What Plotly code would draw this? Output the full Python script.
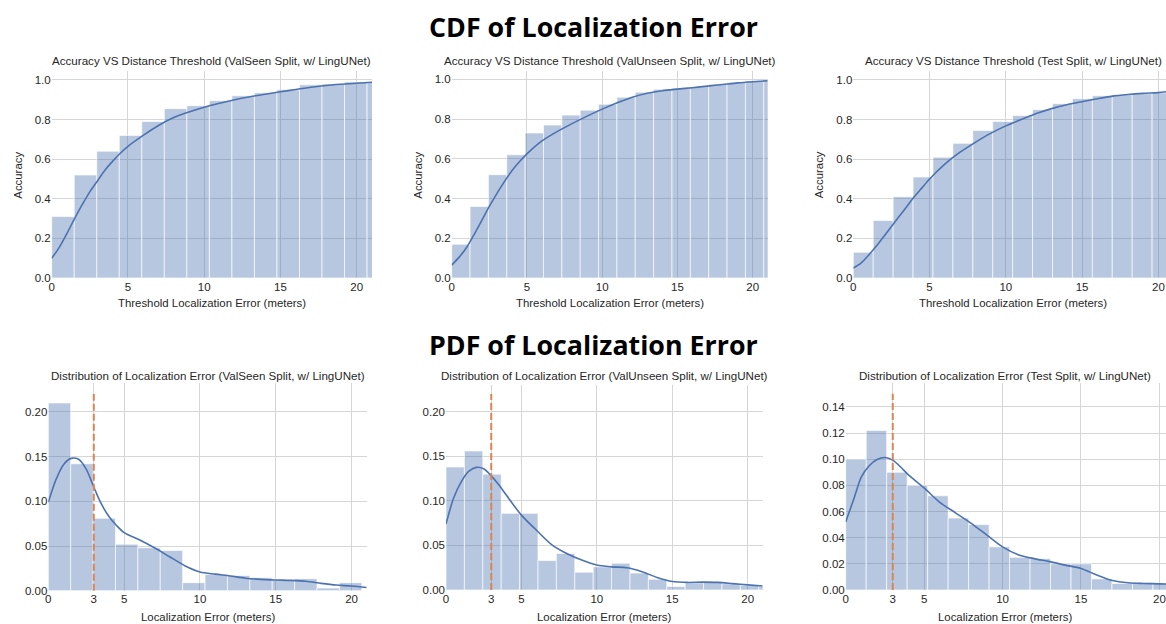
import plotly.graph_objects as go

# ---------------- data ----------------
splits = ["ValSeen", "ValUnseen", "Test"]

# histogram bin widths (meters)
bin_width_valseen = 1.477
bin_width_valunseen = 1.22
bin_width_test = 1.306

# CDF (cumulative) bar heights
cdf_bars_valseen = [0.31, 0.52, 0.64, 0.72, 0.79, 0.855, 0.87, 0.895, 0.92, 0.935,
                    0.95, 0.975, 0.98, 0.99, 0.99]
cdf_bars_valunseen = [0.17, 0.36, 0.52, 0.62, 0.73, 0.77, 0.82, 0.845, 0.875, 0.91,
                      0.935, 0.95, 0.955, 0.963, 0.975, 0.983, 0.99, 0.995]
cdf_bars_test = [0.13, 0.29, 0.41, 0.51, 0.61, 0.68, 0.745, 0.79, 0.82, 0.85,
                 0.88, 0.905, 0.92, 0.925, 0.93, 0.935]

# CDF smooth curves
cdf_curve_x_valseen = [0, 0.5, 1, 1.5, 2, 2.5, 3, 3.5, 4, 4.5, 5, 6, 7, 8, 9, 10, 11, 12,
                       13, 14, 15, 16, 17, 18, 19, 20, 21]
cdf_curve_y_valseen = [0.10, 0.155, 0.225, 0.30, 0.37, 0.435, 0.49, 0.545, 0.59, 0.63,
                       0.665, 0.72, 0.77, 0.81, 0.838, 0.862, 0.882, 0.90, 0.915, 0.928,
                       0.94, 0.952, 0.963, 0.972, 0.978, 0.983, 0.988]
cdf_curve_x_valunseen = [0, 0.5, 1, 1.5, 2, 2.5, 3, 3.5, 4, 4.5, 5, 6, 7, 8, 9, 10, 11, 12,
                         13, 14, 15, 16, 17, 18, 19, 20, 21]
cdf_curve_y_valunseen = [0.065, 0.105, 0.155, 0.22, 0.29, 0.36, 0.425, 0.485, 0.54, 0.585,
                         0.625, 0.69, 0.737, 0.777, 0.815, 0.85, 0.882, 0.91, 0.93, 0.943,
                         0.951, 0.958, 0.966, 0.974, 0.982, 0.988, 0.993]
cdf_curve_x_test = [0, 0.5, 1, 1.5, 2, 2.5, 3, 3.5, 4, 4.5, 5, 6, 7, 8, 9, 10, 11, 12, 13,
                    14, 15, 16, 17, 18, 19, 20, 20.5]
cdf_curve_y_test = [0.05, 0.075, 0.115, 0.16, 0.21, 0.26, 0.31, 0.36, 0.41, 0.455, 0.50,
                    0.575, 0.635, 0.685, 0.73, 0.768, 0.80, 0.83, 0.855, 0.875, 0.89,
                    0.905, 0.918, 0.926, 0.932, 0.936, 0.94]

# PDF (density) bar heights
pdf_bars_valseen = [0.21, 0.142, 0.081, 0.052, 0.048, 0.045, 0.009, 0.018, 0.017, 0.0145,
                    0.012, 0.0135, 0.003, 0.009]
pdf_bars_valunseen = [0.138, 0.156, 0.13, 0.086, 0.086, 0.033, 0.041, 0.020, 0.026, 0.030,
                      0.019, 0.012, 0.004, 0.008, 0.0095, 0.007, 0.005, 0.004]
pdf_bars_test = [0.10, 0.122, 0.09, 0.08, 0.072, 0.055, 0.05, 0.033, 0.025, 0.024,
                 0.02, 0.02, 0.0085, 0.005, 0.0055, 0.005]

# PDF KDE curves
kde_x_valseen = [0, 0.5, 1, 1.5, 2, 2.5, 3, 3.5, 4, 4.5, 5, 6, 7, 8, 9, 10, 11, 12, 13,
                 14, 15, 16, 17, 18, 19, 20, 21]
kde_y_valseen = [0.099, 0.124, 0.141, 0.148, 0.147, 0.136, 0.116, 0.097, 0.083, 0.073,
                 0.065, 0.057, 0.048, 0.038, 0.028, 0.021, 0.0185, 0.0165, 0.014, 0.0127,
                 0.012, 0.0115, 0.0105, 0.0082, 0.0063, 0.0052, 0.0035]
kde_x_valunseen = [0, 0.5, 1, 1.5, 2, 2.5, 3, 3.5, 4, 5, 6, 7, 8, 9, 10, 11, 12, 13, 14,
                   15, 16, 17, 18, 19, 20, 21]
kde_y_valunseen = [0.074, 0.103, 0.121, 0.133, 0.1376, 0.136, 0.128, 0.118, 0.1065, 0.084,
                   0.067, 0.051, 0.041, 0.0336, 0.028, 0.026, 0.025, 0.0206, 0.014, 0.0095,
                   0.0085, 0.0088, 0.0085, 0.0072, 0.0058, 0.0045]
kde_x_test = [0, 0.5, 1, 1.5, 2, 2.5, 3, 3.5, 4, 5, 6, 7, 8, 9, 10, 11, 12, 13, 14, 15,
              16, 17, 18, 19, 20, 20.5]
kde_y_test = [0.052, 0.069, 0.0865, 0.095, 0.0998, 0.1013, 0.0993, 0.094, 0.088, 0.078,
              0.067, 0.059, 0.051, 0.042, 0.033, 0.027, 0.024, 0.0217, 0.019, 0.0165,
              0.0115, 0.0072, 0.0055, 0.005, 0.0047, 0.0046]

threshold_m = 3
threshold_line_top = [0.22, 0.22, 0.15]

cdf_x_range_max = [21, 21, 20.5]
cdf_y_range_max = [1.045, 1.042, 1.045]
pdf_x_range_max = [21, 21, 20.42]
pdf_y_range_max = [0.232, 0.23, 0.158]
pdf_y_ticks = [[0, 0.05, 0.10, 0.15, 0.20], [0, 0.05, 0.10, 0.15, 0.20],
               [0, 0.02, 0.04, 0.06, 0.08, 0.10, 0.12, 0.14]]

cdf_tick_vals = [0, 5, 10, 15, 20]
pdf_tick_vals = [0, 3, 5, 10, 15, 20]

# ---------------- styling ----------------
BAR = "rgba(76,114,176,0.4)"
EDGE = "rgba(255,255,255,0.65)"
LINE = "#4c72b0"
ORANGE = "#dd8452"
GRID = "#d6d6d6"
TXT = "#262626"
FONT = "Liberation Sans, Arial, sans-serif"

W, H = 1166, 624
cdf_x_dom = [(51.7, 372.0), (451.7, 767.7), (853.3, 1166.0)]
cdf_y_px = (71.0, 278.0)
pdf_x_dom = [(48.3, 366.7), (446.0, 762.7), (845.7, 1166.0)]
pdf_y_px = [(383.3, 590.7), (385.0, 590.0), (383.3, 590.0)]

def xd(a, b):
    return [a / W, min(b / W, 1.0)]

def yd(top, bot):
    return [(H - bot) / H, (H - top) / H]

cdf_bars = [cdf_bars_valseen, cdf_bars_valunseen, cdf_bars_test]
cdf_cx = [cdf_curve_x_valseen, cdf_curve_x_valunseen, cdf_curve_x_test]
cdf_cy = [cdf_curve_y_valseen, cdf_curve_y_valunseen, cdf_curve_y_test]
pdf_bars = [pdf_bars_valseen, pdf_bars_valunseen, pdf_bars_test]
kde_x = [kde_x_valseen, kde_x_valunseen, kde_x_test]
kde_y = [kde_y_valseen, kde_y_valunseen, kde_y_test]
widths = [bin_width_valseen, bin_width_valunseen, bin_width_test]

fig = go.Figure()
layout = dict(width=W, height=H, margin=dict(l=0, r=0, t=0, b=0, autoexpand=False),
              paper_bgcolor="white", plot_bgcolor="white", showlegend=False,
              font=dict(family=FONT, size=11, color=TXT), bargap=0)
annotations = []

def axis_common():
    return dict(showgrid=True, gridcolor=GRID, gridwidth=1, zeroline=False,
                showline=False, ticks="", automargin=False,
                tickfont=dict(family=FONT, size=11.5, color=TXT), fixedrange=True)

TITLE_SIZE = 11.6
LABEL_SIZE = 11.4

for i, name in enumerate(splits):
    # ---- CDF row ----
    k = i + 1
    xa, ya = f"x{k}", f"y{k}"
    edges = [widths[i] * j for j in range(len(cdf_bars[i]))]
    fig.add_trace(go.Bar(x=edges, y=cdf_bars[i], width=widths[i], offset=0,
                         marker=dict(color=BAR, line=dict(color=EDGE, width=1)),
                         xaxis=xa, yaxis=ya, hoverinfo="skip"))
    fig.add_trace(go.Scatter(x=cdf_cx[i], y=cdf_cy[i], mode="lines",
                             line=dict(color=LINE, width=1.6, shape="spline", smoothing=0.8),
                             xaxis=xa, yaxis=ya, hoverinfo="skip"))
    ax = axis_common()
    ax.update(domain=xd(*cdf_x_dom[i]), range=[0, cdf_x_range_max[i]],
              tickvals=cdf_tick_vals, anchor=ya)
    ay = axis_common()
    ay.update(domain=yd(*cdf_y_px), range=[0, cdf_y_range_max[i]],
              tickvals=[0, 0.2, 0.4, 0.6, 0.8, 1.0], tickformat=".1f", anchor=xa)
    layout["xaxis" + ("" if k == 1 else str(k))] = ax
    layout["yaxis" + ("" if k == 1 else str(k))] = ay
    cx = (cdf_x_dom[i][0] + min(cdf_x_dom[i][1], W)) / 2
    if i == 2:
        cx = (cdf_x_dom[i][0] + cdf_x_dom[i][0] + 21 * 15.25) / 2
    annotations.append(dict(text=f"Accuracy VS Distance Threshold ({name} Split, w/ LingUNet)",
                            x=cx / W, y=(H - 61) / H, xref="paper", yref="paper",
                            showarrow=False, xanchor="center", yanchor="middle",
                            font=dict(family=FONT, size=TITLE_SIZE, color=TXT)))
    annotations.append(dict(text="Threshold Localization Error (meters)",
                            x=cx / W, y=(H - 303) / H, xref="paper", yref="paper",
                            showarrow=False, xanchor="center", yanchor="middle",
                            font=dict(family=FONT, size=LABEL_SIZE, color=TXT)))
    annotations.append(dict(text="Accuracy", textangle=-90,
                            x=(cdf_x_dom[i][0] - 34) / W, y=(H - 175) / H,
                            xref="paper", yref="paper", showarrow=False,
                            xanchor="center", yanchor="middle",
                            font=dict(family=FONT, size=LABEL_SIZE, color=TXT)))

    # ---- PDF row ----
    k = i + 4
    xa, ya = f"x{k}", f"y{k}"
    edges = [widths[i] * j for j in range(len(pdf_bars[i]))]
    fig.add_trace(go.Bar(x=edges, y=pdf_bars[i], width=widths[i], offset=0,
                         marker=dict(color=BAR, line=dict(color=EDGE, width=1)),
                         xaxis=xa, yaxis=ya, hoverinfo="skip"))
    fig.add_trace(go.Scatter(x=kde_x[i], y=kde_y[i], mode="lines",
                             line=dict(color=LINE, width=1.6, shape="spline", smoothing=0.8),
                             xaxis=xa, yaxis=ya, hoverinfo="skip"))
    fig.add_trace(go.Scatter(x=[threshold_m, threshold_m], y=[0, threshold_line_top[i]],
                             mode="lines", line=dict(color=ORANGE, width=2, dash="7px,3px"),
                             xaxis=xa, yaxis=ya, hoverinfo="skip"))
    ax = axis_common()
    ax.update(domain=xd(*pdf_x_dom[i]), range=[0, pdf_x_range_max[i]],
              tickvals=pdf_tick_vals, anchor=ya)
    ay = axis_common()
    ay.update(domain=yd(*pdf_y_px[i]), range=[0, pdf_y_range_max[i]],
              tickvals=pdf_y_ticks[i], tickformat=".2f", anchor=xa)
    layout[f"xaxis{k}"] = ax
    layout[f"yaxis{k}"] = ay
    px0 = pdf_x_dom[i][0]
    px1 = min(pdf_x_dom[i][1], W)
    cx = (px0 + px1) / 2
    if i == 2:
        cx = (px0 + px0 + 21 * 15.2) / 2
    annotations.append(dict(text=f"Distribution of Localization Error ({name} Split, w/ LingUNet)",
                            x=cx / W, y=(H - 375) / H, xref="paper", yref="paper",
                            showarrow=False, xanchor="center", yanchor="middle",
                            font=dict(family=FONT, size=TITLE_SIZE, color=TXT)))
    annotations.append(dict(text="Localization Error (meters)",
                            x=cx / W, y=(H - 617) / H, xref="paper", yref="paper",
                            showarrow=False, xanchor="center", yanchor="middle",
                            font=dict(family=FONT, size=LABEL_SIZE, color=TXT)))

annotations.append(dict(text="<b>CDF of Localization Error</b>", x=593 / W, y=(H - 27) / H,
                        xref="paper", yref="paper", showarrow=False,
                        xanchor="center", yanchor="middle",
                        font=dict(family="Open Sans", size=26.8, color="black")))
annotations.append(dict(text="<b>PDF of Localization Error</b>", x=593 / W, y=(H - 344) / H,
                        xref="paper", yref="paper", showarrow=False,
                        xanchor="center", yanchor="middle",
                        font=dict(family="Open Sans", size=26.8, color="black")))

layout["annotations"] = annotations
fig.update_layout(**layout)
fig.write_html("out.html", config={"displayModeBar": False, "staticPlot": True},
               post_script="document.body.style.margin='0';document.body.style.overflow='hidden';")
